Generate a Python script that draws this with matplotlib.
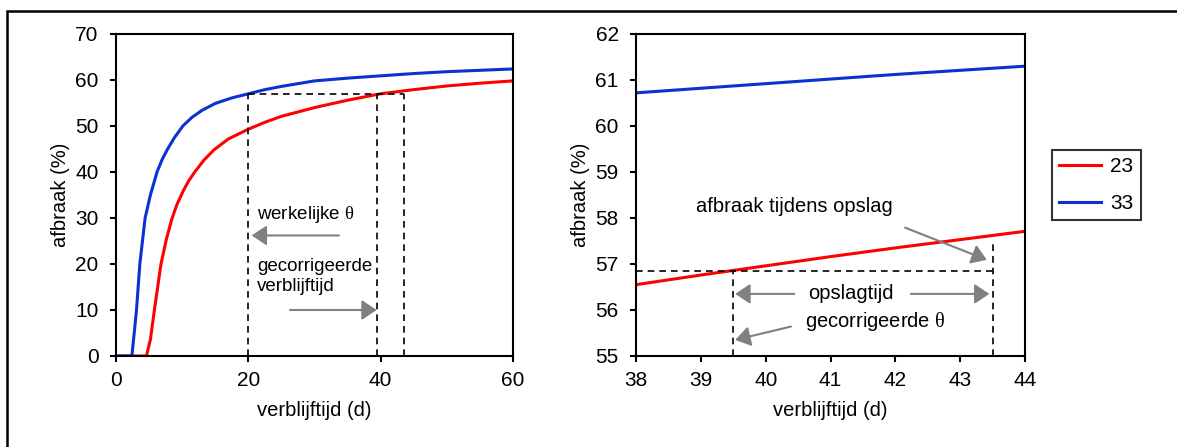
import matplotlib
matplotlib.use('Agg')
from matplotlib import pyplot as plt
from matplotlib.patches import Rectangle

plt.rcParams['font.family'] = ['Liberation Sans', 'DejaVu Sans']
plt.rcParams['mathtext.fontset'] = 'custom'
plt.rcParams['mathtext.rm'] = 'Liberation Serif'
plt.rcParams['mathtext.it'] = 'Liberation Serif'

# linker paneel: volledige curves
t_blue = [0, 2.4, 3.1, 3.6, 4.4, 5.2, 6.2, 7.0, 7.8, 8.8, 10.1, 11.5, 13, 15, 17.5, 20, 22.5, 25, 30, 35, 40, 45, 50, 55, 60]
blue = [0, 0, 10, 20, 30, 35, 40, 42.8, 45, 47.4, 50, 51.9, 53.4, 54.9, 56.1, 57.0, 57.9, 58.6, 59.8, 60.4, 60.9, 61.4, 61.8, 62.1, 62.4]
t_red = [0, 4.6, 5.2, 5.8, 6.8, 7.6, 8.4, 9.2, 10.2, 11.0, 11.9, 13.3, 14.8, 17, 20, 22.5, 25, 30, 35, 40, 45, 50, 55, 60]
red = [0, 0, 3.6, 10, 20, 25.3, 29.6, 32.9, 36.0, 38.1, 40.0, 42.6, 44.8, 47.2, 49.3, 50.8, 52.1, 54.0, 55.6, 57.0, 57.9, 58.7, 59.3, 59.8]

# rechter paneel: ingezoomd 38-44 d
t_zoom = [38, 39, 40, 41, 42, 43, 44]
red_zoom = [56.55, 56.76, 56.96, 57.16, 57.35, 57.53, 57.71]
blue_zoom = [60.72, 60.82, 60.92, 61.02, 61.12, 61.21, 61.30]

labels = ['23', '33']
c_red = '#FF0000'
c_blue = '#0A32D2'
grey = '#808080'

fig = plt.figure(figsize=(11.77, 4.47), dpi=100)
ax1 = fig.add_axes([0.09856, 0.2036, 0.3373, 0.7204])
ax2 = fig.add_axes([0.5404, 0.2036, 0.3305, 0.7204])

fs = 15
fl = 14.5
for ax in (ax1, ax2):
    for s in ax.spines.values():
        s.set_linewidth(1.5)
    ax.tick_params(direction='out', length=4.5, width=1.5, labelsize=fs)
    ax.tick_params(axis='y', pad=8)
    ax.tick_params(axis='x', pad=6)
    ax.set_xlabel('verblijftijd (d)', fontsize=fl, labelpad=8)
    ax.set_ylabel('afbraak (%)', fontsize=fl, labelpad=4)

# links
ax1.plot(t_red, red, color=c_red, lw=2.2, label=labels[0])
ax1.plot(t_blue, blue, color=c_blue, lw=2.2, label=labels[1])
ax1.set_xlim(0, 60)
ax1.set_ylim(0, 70)
ax1.set_xticks([0, 20, 40, 60])
ax1.set_yticks(range(0, 71, 10))

dash = dict(color='black', lw=1.2, ls=(0, (4, 3)))
ax1.plot([20, 43.5], [57, 57], **dash)
ax1.plot([20, 20], [0, 57], **dash)
ax1.plot([39.5, 39.5], [0, 57], **dash)
ax1.plot([43.5, 43.5], [0, 57], **dash)

arrow = dict(arrowstyle='-|>,head_length=0.9,head_width=0.6', color=grey, lw=1.5, shrinkA=0, shrinkB=0)
fa = 13.5
ax1.text(21.3, 30.8, r'werkelijke $\theta$', fontsize=fa, va='center', ha='left')
ax1.annotate('', xy=(20.5, 26.2), xytext=(33.7, 26.2), arrowprops=arrow)
ax1.text(21.3, 17.3, 'gecorrigeerde\nverblijftijd', fontsize=fa, va='center', ha='left', linespacing=1.25)
ax1.annotate('', xy=(39.4, 10), xytext=(26.3, 10), arrowprops=arrow)

# rechts
ax2.plot(t_zoom, red_zoom, color=c_red, lw=2.2, label=labels[0])
ax2.plot(t_zoom, blue_zoom, color=c_blue, lw=2.2, label=labels[1])
ax2.set_xlim(38, 44)
ax2.set_ylim(55, 62)
ax2.set_xticks(range(38, 45))
ax2.set_yticks(range(55, 63))

ax2.plot([38, 43.5], [56.85, 56.85], **dash)
ax2.plot([39.5, 39.5], [55, 56.85], **dash)
ax2.plot([43.5, 43.5], [55, 57.5], **dash)

fb = 14.5
ax2.text(38.93, 58.25, 'afbraak tijdens opslag', fontsize=fb, va='center', ha='left')
ax2.annotate('', xy=(43.41, 57.09), xytext=(42.15, 57.79), arrowprops=arrow)
ax2.text(41.32, 56.35, 'opslagtijd', fontsize=fb, va='center', ha='center')
ax2.annotate('', xy=(39.53, 56.35), xytext=(40.44, 56.35), arrowprops=arrow)
ax2.annotate('', xy=(43.45, 56.35), xytext=(42.24, 56.35), arrowprops=arrow)
ax2.text(40.6, 55.75, r'gecorrigeerde $\theta$', fontsize=fb, va='center', ha='left')
ax2.annotate('', xy=(39.53, 55.35), xytext=(40.39, 55.64), arrowprops=arrow)

leg = ax2.legend(loc='upper left', bbox_to_anchor=(0.8938, 0.6644), bbox_transform=fig.transFigure,
                 borderaxespad=0, fontsize=fs, frameon=True, fancybox=False, edgecolor='black',
                 handlelength=2.0, handletextpad=0.45, labelspacing=0.85, borderpad=0.35)
leg.get_frame().set_linewidth(1.5)

# kader rond de hele figuur (rechts en onder buiten beeld)
fig.add_artist(Rectangle((7 / 1177, -0.1), 1.2, 1.1 - 11 / 447, transform=fig.transFigure,
                         fill=False, edgecolor='black', lw=1.8, clip_on=False))

fig.savefig('out.png', dpi=100)
